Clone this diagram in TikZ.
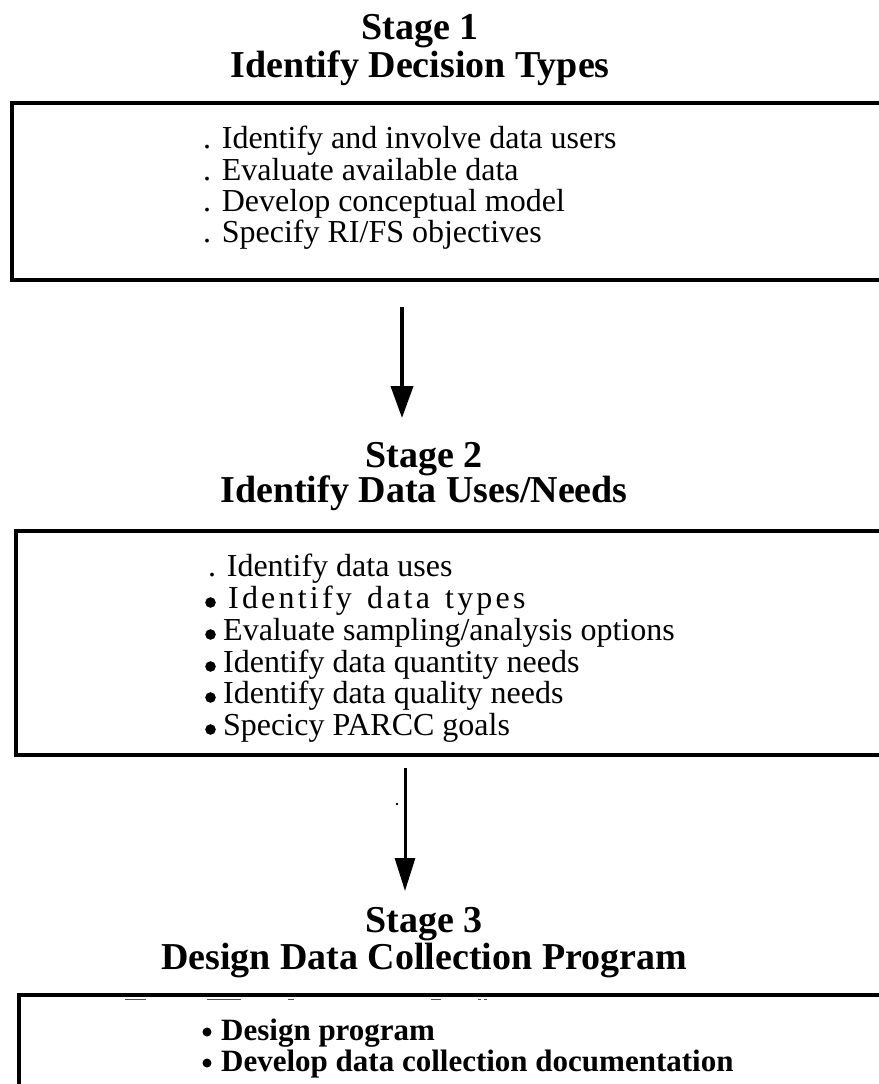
\documentclass[tikz,border=0pt]{standalone}
\usepackage{fontspec}
\setmainfont{Liberation Serif}
\newfontfamily\spacedfont[LetterSpace=10]{Liberation Serif}
\usetikzlibrary{arrows.meta}
\begin{document}
\begin{tikzpicture}[x=1pt,y=-1pt,
  title/.style={font=\fontsize{38}{38}\selectfont\bfseries, anchor=base, inner sep=0pt},
  item/.style={font=\fontsize{32}{32}\selectfont, anchor=base west, inner sep=0pt},
  itemb/.style={font=\fontsize{31}{31}\selectfont\bfseries, anchor=base west, inner sep=0pt},
  frame/.style={line width=4.5pt, line join=miter},
  flowa/.style={line width=4pt, -{Triangle[length=32pt,width=22pt]}},
  flowb/.style={line width=3pt, -{Triangle[length=33pt,width=20pt]}},
  scan/.style={line width=1.2pt, black!70}]
\useasboundingbox (0,0) rectangle (878,1084);

% ---------- Stage 1 ----------
\node[title] (t1a) at (420,39) {Stage 1};
\node[title] (t1b) at (420,77) {Identify Decision Types};
\draw[frame] (890,103) -| (12,280) -- (890,280);
\node[item] (s1l1) at (203,148) {. Identify and involve data users};
\node[item] (s1l2) at (203,180) {. Evaluate available data};
\node[item] (s1l3) at (203,211) {. Develop conceptual model};
\node[item] (s1l4) at (203,242) {. Specify RI/FS objectives};

\coordinate (a1s) at (402,307);
\coordinate (a1e) at (402,418);
\draw[flowa] (a1s) -- (a1e);

% ---------- Stage 2 ----------
\node[title] (t2a) at (424,467) {Stage 2};
\node[title] (t2b) at (424,502) {Identify Data Uses/Needs};
\draw[frame] (890,531) -| (16,755) -- (890,755);
\node[item] (s2l1) at (208,576) {. Identify data uses};
\node[item, font=\fontsize{32}{32}\spacedfont] (s2l2) at (228,608) {Identify\hspace{4pt} data\hspace{4pt} types};
\node[item] (s2l3) at (223,640) {Evaluate sampling/analysis options};
\node[item] (s2l4) at (223,672) {Identify data quantity needs};
\node[item] (s2l5) at (223,703) {Identify data quality needs};
\node[item] (s2l6) at (223,735) {Specicy PARCC goals};
\foreach \b in {608,640,672,703,735}{\fill (210.5,\b-5.5) circle (5.3);}

\coordinate (a2s) at (405,768);
\coordinate (a2e) at (405,891);
\draw[flowb] (a2s) -- (a2e);
\fill (397,804) circle (1.3);

% ---------- Stage 3 ----------
\node[title] (t3a) at (424,932) {Stage 3};
\node[title] (t3b) at (424,969) {Design Data Collection Program};
\draw[frame] (890,995) -| (19,1095);
\draw[scan] (125,999.5) -- (146,999.5);
\draw[scan] (207,999.5) -- (241,999.5);
\draw[scan] (288,999.5) -- (294,999.5);
\draw[scan] (431,999.5) -- (441,999.5);
\draw[scan] (478,999.5) -- (481,999.5);
\draw[scan] (484,999.5) -- (487,999.5);
\node[itemb] (s3l1) at (221,1040) {Design program};
\node[itemb] (s3l2) at (221,1071) {Develop data collection documentation};
\foreach \b in {1040,1071}{\fill (207,\b-8) circle (4.5);}
\end{tikzpicture}
\end{document}
